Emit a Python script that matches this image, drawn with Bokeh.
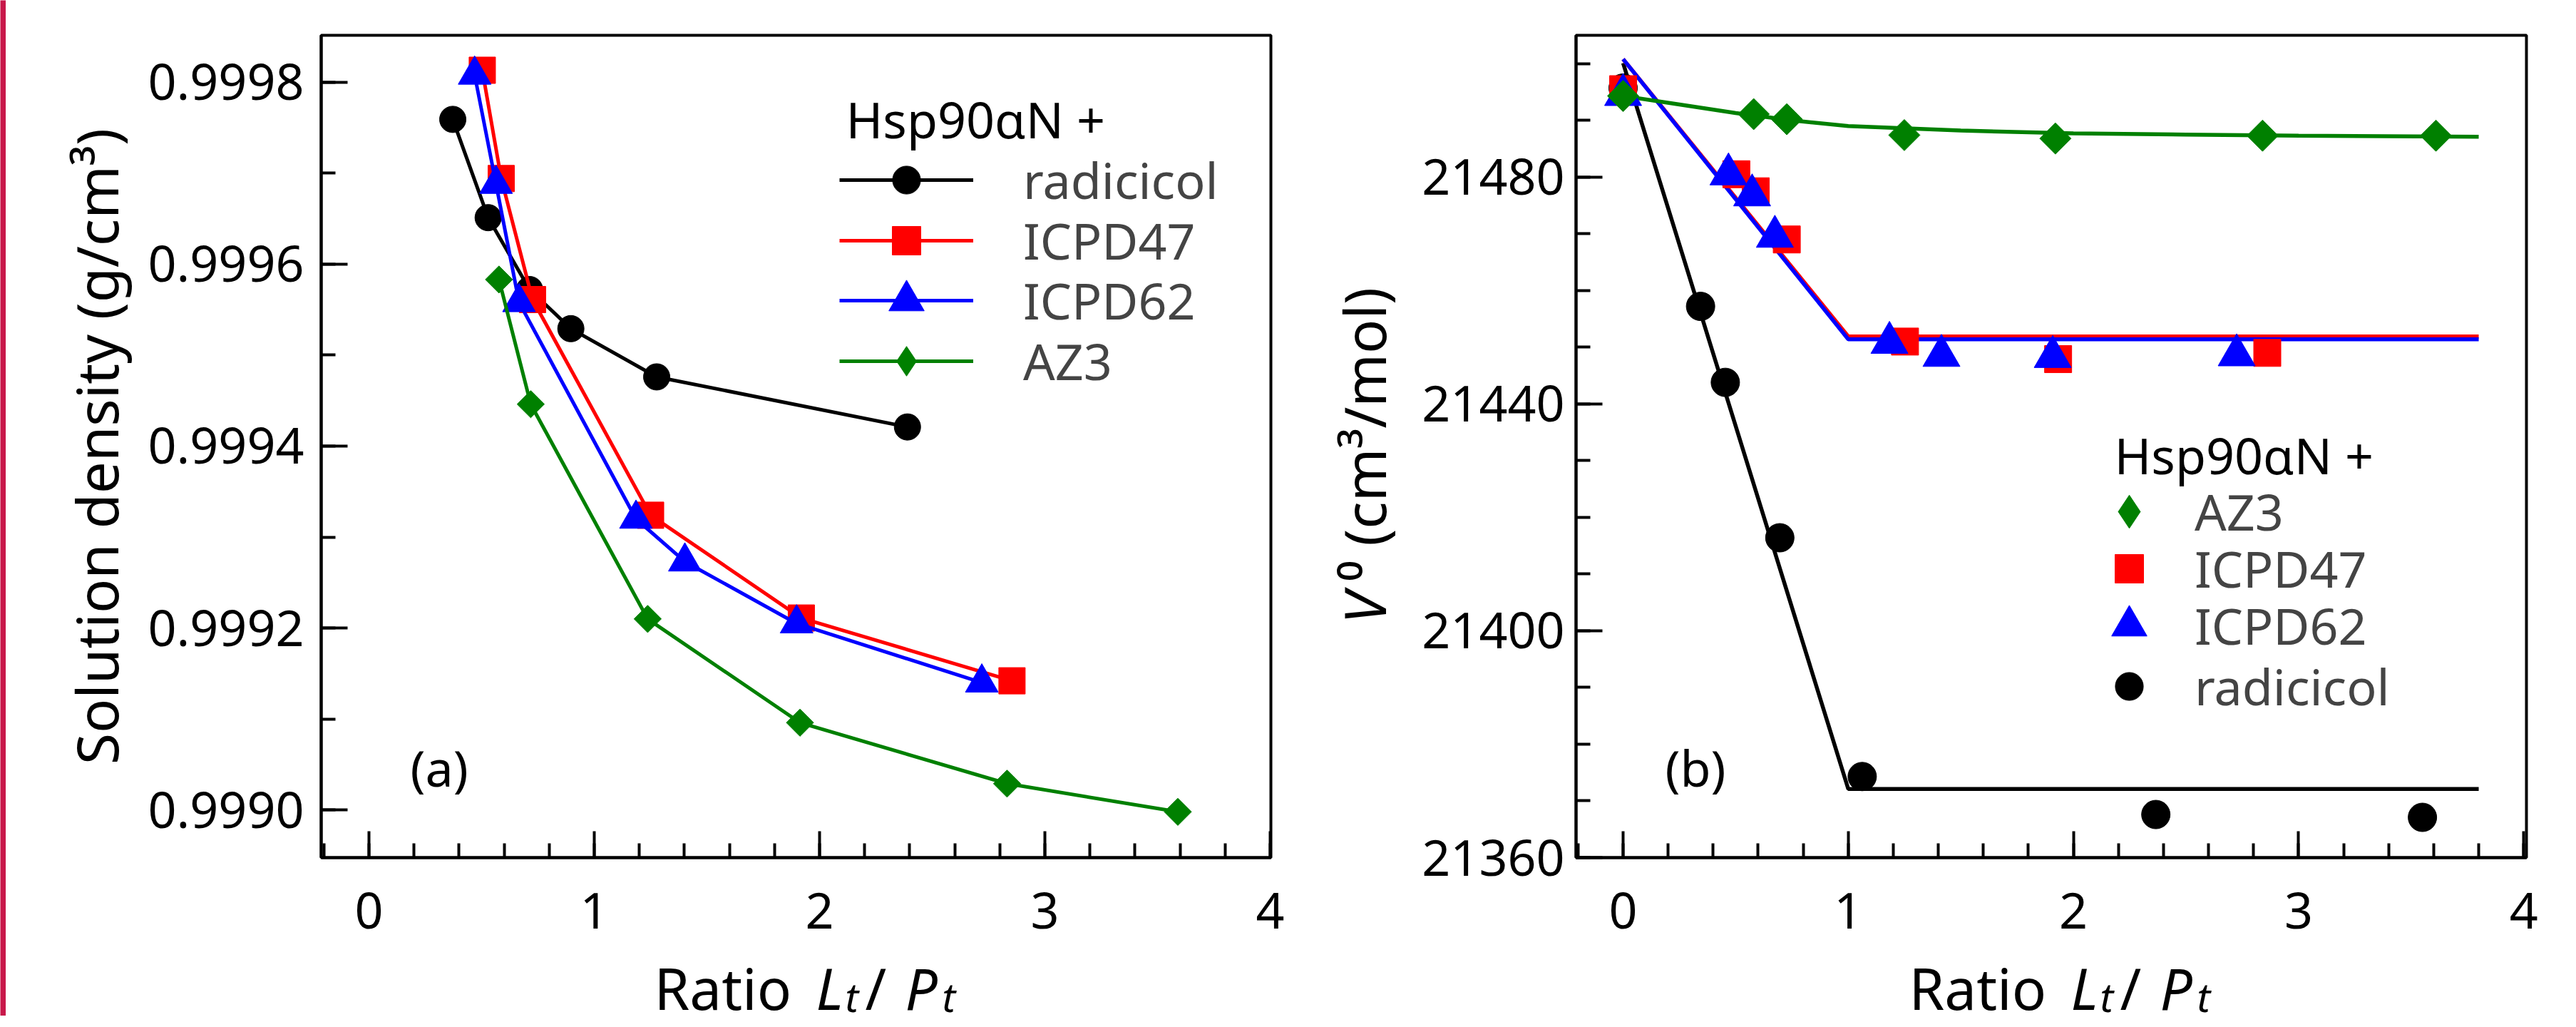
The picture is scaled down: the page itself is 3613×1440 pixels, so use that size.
import math
from bokeh.plotting import figure
from bokeh.models import (Legend, LegendItem, Label, SingleIntervalTicker,
                          NumeralTickFormatter, Range1d)
from bokeh.layouts import row, column
from bokeh.embed import file_html
from bokeh.resources import INLINE

FONT = "Noto Sans"
RED_STRIP = "#C8184A"

# ---------------- data: panel (a) solution density ----------------
a_radicicol_x = [0.372, 0.529, 0.713, 0.896, 1.277, 2.39]
a_radicicol_y = [0.999759, 0.999651, 0.999572, 0.999529, 0.999476, 0.999421]
a_icpd47_x = [0.503, 0.587, 0.726, 1.25, 1.919, 2.854]
a_icpd47_y = [0.999813, 0.999694, 0.999561, 0.999324, 0.999211, 0.999142]
a_icpd62_x = [0.469, 0.564, 0.666, 1.185, 1.402, 1.898, 2.72]
a_icpd62_y = [0.999808, 0.999688, 0.999558, 0.999320, 0.999273, 0.999205, 0.999140]
a_az3_x = [0.577, 0.718, 1.237, 1.913, 2.832, 3.59]
a_az3_y = [0.999583, 0.999446, 0.999210, 0.999096, 0.999029, 0.998998]

# ---------------- data: panel (b) apparent molar volume ----------------
b_az3_x = [0.0, 0.58, 0.727, 1.249, 1.92, 2.84, 3.61]
b_az3_y = [21494.3, 21491.1, 21490.2, 21487.4, 21486.8, 21487.3, 21487.3]
b_icpd47_x = [0.0, 0.503, 0.589, 0.727, 1.252, 1.932, 2.861]
b_icpd47_y = [21495.5, 21480.5, 21477.5, 21469.0, 21451.0, 21447.9, 21449.0]
b_icpd62_x = [0.0, 0.468, 0.573, 0.674, 1.183, 1.414, 1.908, 2.725]
b_icpd62_y = [21494.5, 21480.5, 21476.8, 21469.5, 21450.8, 21448.5, 21448.3, 21448.6]
b_radicicol_x = [0.0, 0.344, 0.454, 0.696, 1.062, 2.366, 3.55]
b_radicicol_y = [21495.7, 21457.2, 21443.8, 21416.4, 21374.3, 21367.6, 21367.1]

# fitted curves
fit_radicicol_x = [0.0, 1.0, 3.8]
fit_radicicol_y = [21500.1, 21372.1, 21372.1]
fit_icpd47_x = [0.0, 1.0, 3.8]
fit_icpd47_y = [21500.8, 21451.9, 21451.9]
fit_icpd62_x = [0.0, 1.0, 3.8]
fit_icpd62_y = [21500.8, 21451.4, 21451.4]
fit_az3_x = [0.0, 0.25, 0.5, 0.75, 1.0, 1.5, 2.0, 2.5, 3.0, 3.8]
fit_az3_y = [21494.3, 21492.8, 21491.3, 21490.0, 21489.0, 21488.2, 21487.7,
             21487.5, 21487.3, 21487.1]

legend_title = "Hsp90αN +"
names = ["radicicol", "ICPD47", "ICPD62", "AZ3"]


def style(p, yticker, yfmt, ystandoff):
    p.xgrid.visible = False
    p.ygrid.visible = False
    p.outline_line_color = "black"
    p.outline_line_width = 4
    p.background_fill_color = "white"
    p.border_fill_color = "white"
    p.xaxis.ticker = SingleIntervalTicker(interval=1, num_minor_ticks=5)
    p.yaxis.ticker = yticker
    p.yaxis.formatter = yfmt
    for ax in list(p.xaxis) + list(p.yaxis):
        ax.axis_line_width = 4
        ax.major_tick_line_width = 4
        ax.minor_tick_line_width = 4
        ax.major_tick_in = 37
        ax.major_tick_out = 0
        ax.minor_tick_in = 20
        ax.minor_tick_out = 0
        ax.major_label_text_font = FONT
        ax.major_label_text_font_size = "70px"
        ax.major_label_text_color = "black"
        ax.axis_label_text_font = FONT
        ax.axis_label_text_font_size = "80px"
        ax.axis_label_text_font_style = "normal"
        ax.axis_label_text_color = "black"
    p.xaxis.major_label_standoff = 49
    p.yaxis.major_label_standoff = ystandoff


def lab(p, x, y, text, size="80px", style_="normal", angle=0.0):
    p.add_layout(Label(x=x, y=y, x_units="screen", y_units="screen", text=text,
                       text_font=FONT, text_font_size=size, text_font_style=style_,
                       text_color="black", text_baseline="alphabetic",
                       text_align="left", angle=angle))


def blank(width, height):
    f = figure(width=width, height=height, x_axis_type=None, y_axis_type=None,
               toolbar_location=None, min_border=0, outline_line_color=None,
               output_backend="svg")
    f.xgrid.visible = False
    f.ygrid.visible = False
    return f


def x_label_fig(width):
    # x-axis title "Ratio Lt/ Pt" with italic symbols and subscripts;
    # this figure's frame is aligned with the plot frame above it
    f = blank(width, 72)
    dx = 467
    lab(f, dx + 0, 40, "Ratio")
    lab(f, dx + 227, 40, "L", style_="italic")
    lab(f, dx + 268, 28, "t", size="56px", style_="italic")
    lab(f, dx + 296, 40, "/")
    lab(f, dx + 352, 40, "P", style_="italic")
    lab(f, dx + 404, 28, "t", size="56px", style_="italic")
    return f


TEXT_H = 96


def add_legend(p, renderers, label, x, center_from_bottom, box, gw, standoff):
    h = max(box, TEXT_H)
    leg = Legend(items=[LegendItem(label=label, renderers=renderers)],
                 location=(int(x), int(center_from_bottom - h // 2)),
                 glyph_width=int(gw), glyph_height=int(box), label_height=int(box),
                 spacing=0, padding=0, margin=0, label_standoff=int(standoff),
                 border_line_color=None, background_fill_alpha=0,
                 label_text_font=FONT, label_text_font_size="70px")
    p.add_layout(leg)


# ---------------- strip ----------------
strip = figure(width=8, height=1424, x_axis_type=None, y_axis_type=None,
               toolbar_location=None, min_border=0, outline_line_color=None,
               background_fill_color=RED_STRIP, border_fill_color=RED_STRIP,
               output_backend="svg")

# ---------------- panel (a) ----------------
p1 = figure(frame_width=1332, frame_height=1153, min_border_left=442,
            min_border_right=50, min_border_top=49, min_border_bottom=150,
            x_range=Range1d(-0.212, 4.003), y_range=Range1d(0.9989477, 0.9998514),
            toolbar_location=None, output_backend="svg")
style(p1, SingleIntervalTicker(interval=0.0002, num_minor_ticks=2),
      NumeralTickFormatter(format="0.0000"), 24)
p1.yaxis.axis_label = "Solution density (g/cm³)"
p1.yaxis.axis_label_standoff = 16

lw = 5
l_k = p1.line(a_radicicol_x, a_radicicol_y, color="black", line_width=lw)
m_k = p1.scatter(a_radicicol_x, a_radicicol_y, marker="circle", size=37, color="black")
l_r = p1.line(a_icpd47_x, a_icpd47_y, color="red", line_width=lw)
m_r = p1.scatter(a_icpd47_x, a_icpd47_y, marker="square", size=37, color="red")
l_b = p1.line(a_icpd62_x, a_icpd62_y, color="blue", line_width=lw)
m_b = p1.scatter(a_icpd62_x, a_icpd62_y, marker="triangle", size=46, color="blue")
l_g = p1.line(a_az3_x, a_az3_y, color="green", line_width=lw)
m_g = p1.scatter(a_az3_x, a_az3_y, marker="square", angle=math.pi / 4, size=27, color="green")
d_g = p1.scatter(a_az3_x, a_az3_y, marker="diamond", size=40, color="green", visible=False)

# frame bottom is at page y 1209; row centres (incl. correction)
add_legend(p1, [l_k, m_k], names[0], 727, 1209 - 259, 98, 188, 70)
add_legend(p1, [l_r, m_r], names[1], 727, 1209 - 344, 100, 188, 70)
add_legend(p1, [l_b, m_b], names[2], 727, 1209 - 428, 124, 188, 70)
add_legend(p1, [l_g, d_g], names[3], 727, 1209 - 513, 104, 188, 70)
lab(p1, 736, 1036, legend_title, size="70px")
lab(p1, 125, 127, "(a)", size="70px")

xl1 = x_label_fig(1824)

# ---------------- y label of panel (b) ----------------
yl2 = blank(135, 1424)
lab(yl2, 80, 550, "V", style_="italic", angle=math.pi / 2)
lab(yl2, 80, 610, "⁰ (cm³/mol)", angle=math.pi / 2)

# ---------------- panel (b) ----------------
p2 = figure(frame_width=1333, frame_height=1153, min_border_left=243,
            min_border_right=54, min_border_top=49, min_border_bottom=150,
            x_range=Range1d(-0.209, 4.012), y_range=Range1d(21360, 21505),
            toolbar_location=None, output_backend="svg")
style(p2, SingleIntervalTicker(interval=40, num_minor_ticks=4),
      NumeralTickFormatter(format="0"), 16)

flw = 5.5
p2.line(fit_radicicol_x, fit_radicicol_y, color="black", line_width=flw)
p2.line(fit_icpd47_x, fit_icpd47_y, color="red", line_width=flw)
p2.line(fit_icpd62_x, fit_icpd62_y, color="blue", line_width=flw)
p2.line(fit_az3_x, fit_az3_y, color="green", line_width=flw)
n_k = p2.scatter(b_radicicol_x, b_radicicol_y, marker="circle", size=40, color="black")
n_r = p2.scatter(b_icpd47_x, b_icpd47_y, marker="square", size=38, color="red")
n_b = p2.scatter(b_icpd62_x, b_icpd62_y, marker="triangle", size=52, color="blue")
n_g = p2.scatter(b_az3_x, b_az3_y, marker="square", angle=math.pi / 4, size=31, color="green")
e_g = p2.scatter(b_az3_x, b_az3_y, marker="diamond", size=46, color="green", visible=False)

# marker centre x 776 from frame left, row centres (with correction)
for rend, nm, c, box in [(e_g, names[3], 724, 116), (n_r, names[1], 804, 100),
                         (n_b, names[2], 884, 124), (n_k, names[0], 969, 98)]:
    add_legend(p2, [rend], nm, 776 - box // 2, 1209 - c, box, box, 92 - box // 2)
lab(p2, 755, 565, legend_title, size="70px")
lab(p2, 125, 127, "(b)", size="70px")

xl2 = x_label_fig(1630)

layout = row(strip, column(p1, xl1), yl2, column(p2, xl2))
open("out.html", "w").write(file_html(layout, INLINE))
